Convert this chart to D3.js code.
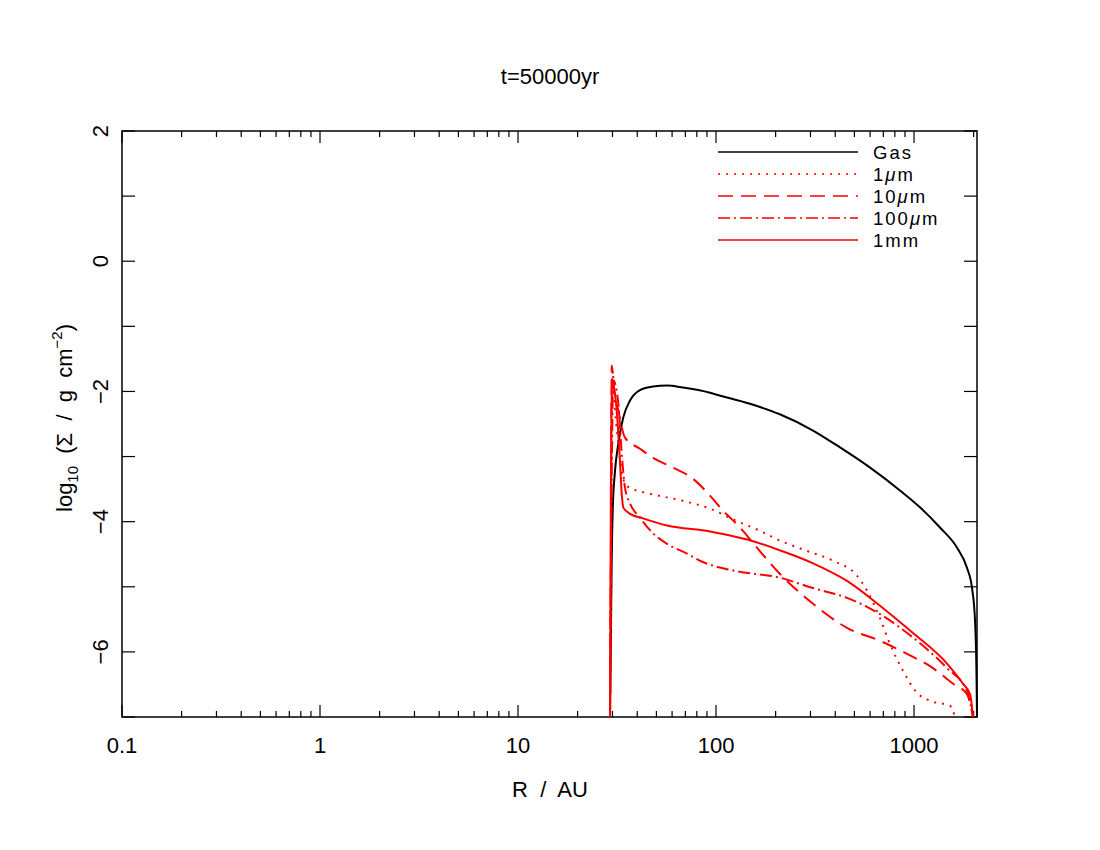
<!DOCTYPE html>
<html><head><meta charset="utf-8">
<script src="https://cdn.jsdelivr.net/npm/d3@7"></script>
<style>body{margin:0;background:#fff}svg{display:block}text{font-family:"Liberation Sans",Arial,sans-serif;white-space:pre}</style>
</head><body><svg id="c" width="1100" height="850"></svg>
<script>
// R in AU, log10 Sigma
const gasR   = [29.15,29.45,29.73,30.08,30.9,32.1,34.0,36.8,41.3,48.1,56.6,68.1,93.3,101,148.5,210,309,423,600,849,1072,1352,1649,1852,1963,2033,2070,2080];
const gasS   = [-7,-5.8,-4.6,-3.83,-3.22,-2.8,-2.4,-2.14,-1.98,-1.925,-1.91,-1.94,-2.02,-2.05,-2.19,-2.35,-2.6,-2.86,-3.17,-3.52,-3.78,-4.09,-4.4,-4.71,-5.02,-5.52,-6.45,-7];
const um1R   = [29.15,29.5,30.0,30.9,32.1,33.4,34.7,36.8,46.4,68.1,93.3,125,161,210,288,390,515,579,673,756,880,1036,1205,1520,1610];
const um1S   = [-7,-4.0,-1.68,-2.29,-2.8,-3.22,-3.42,-3.48,-3.57,-3.68,-3.8,-3.98,-4.12,-4.29,-4.45,-4.6,-4.83,-5.06,-5.48,-5.88,-6.29,-6.63,-6.75,-6.83,-7];
const um10R  = [29.15,29.5,29.73,30.6,32.1,34.7,41.3,48.1,60.7,76.5,90.1,108.5,132.2,161,210,309,458.6,673,922,1247,1574,1852,1986];
const um10S  = [-7,-4.0,-1.6,-2.0,-2.29,-2.71,-2.88,-3.02,-3.17,-3.34,-3.55,-3.83,-4.09,-4.4,-4.8,-5.26,-5.63,-5.83,-6.03,-6.25,-6.49,-6.65,-7];
const um100R = [29.15,29.6,30.3,32.1,33.4,34.7,36.8,41.3,48.1,56.6,71.4,83.0,121.8,210,309,458.6,673,988,1468,1852,1986];
const um100S = [-7,-4.0,-1.83,-2.18,-2.95,-3.48,-3.72,-3.94,-4.18,-4.34,-4.49,-4.6,-4.75,-4.86,-5.02,-5.17,-5.42,-5.78,-6.25,-6.6,-7];
const mm1R   = [29.15,29.45,29.73,31.5,32.7,33.4,34.0,36.8,42.8,56.6,93.3,108.5,153.7,210,309,458.6,673,988,1468,1768,1919,1986];
const mm1S   = [-7,-3.5,-1.8,-2.29,-3.06,-3.57,-3.78,-3.88,-3.95,-4.06,-4.15,-4.19,-4.3,-4.44,-4.64,-4.91,-5.29,-5.71,-6.18,-6.49,-6.65,-7];

const seriesNames = ["Gas","1μm","10μm","100μm","1mm"];
const xTickValues = [0.1,1,10,100,1000];
const xTickLabels = ["0.1","1","10","100","1000"];
const yTickValues = [2,0,-2,-4,-6];
const yTickLabels = ["2","0","−2","−4","−6"];
const titleText = "t=50000yr";

const FS = 22;
const svg = d3.select("#c");
const L=122, R=977, T=131, B=717;
const x = d3.scaleLog().domain([0.1, 2080]).range([L, R]);
const y = d3.scaleLinear().domain([-7, 2]).range([B, T]);

// frame
svg.append("rect").attr("x",L).attr("y",T).attr("width",R-L).attr("height",B-T)
  .attr("fill","none").attr("stroke","#000").attr("stroke-width",1.5);

// ticks
const g = svg.append("g").attr("stroke","#000").attr("stroke-width",1.2);
const xt = [];
for (let e=-1;e<=3;e++) for (let m=1;m<=9;m++){ const v=m*Math.pow(10,e); if(v<=2080) xt.push([v,m===1]); }
xt.forEach(([v,maj])=>{
  const px=x(v), len=maj?12:6;
  g.append("line").attr("x1",px).attr("x2",px).attr("y1",B).attr("y2",B-len);
  g.append("line").attr("x1",px).attr("x2",px).attr("y1",T).attr("y2",T+len);
});
for (let v=-7; v<=2; v++){
  const py=y(v);
  g.append("line").attr("x1",L).attr("x2",L+13).attr("y1",py).attr("y2",py);
  g.append("line").attr("x1",R).attr("x2",R-13).attr("y1",py).attr("y2",py);
}
// x tick labels
xTickValues.forEach((v,i)=>{
  svg.append("text").attr("x",x(v)).attr("y",753).attr("text-anchor","middle")
    .attr("font-size",FS).text(xTickLabels[i]);
});
// y tick labels rotated
yTickValues.forEach((v,i)=>{
  svg.append("text").attr("transform",`translate(108,${y(v)}) rotate(-90)`)
    .attr("text-anchor","middle").attr("font-size",FS).text(yTickLabels[i]);
});
// title & axis labels
svg.append("text").attr("x",550).attr("y",84).attr("text-anchor","middle").attr("font-size",FS).text(titleText);
svg.append("text").attr("x",550).attr("y",797).attr("text-anchor","middle").attr("font-size",FS).text("R  /  AU");
const yl = svg.append("text").attr("transform","translate(72,418) rotate(-90)").attr("text-anchor","middle").attr("font-size",FS);
yl.append("tspan").text("log");
yl.append("tspan").attr("font-size",15).attr("dy",6).text("10");
yl.append("tspan").attr("dy",-6).text("  (Σ  /  g  cm");
yl.append("tspan").attr("font-size",15).attr("dy",-10).text("−2");
yl.append("tspan").attr("dy",10).text(")");

const series = [
  {R:gasR,S:gasS,color:"#000",dash:null},
  {R:um1R,S:um1S,color:"#ff0000",dash:"2,6"},
  {R:um10R,S:um10S,color:"#ff0000",dash:"15,8"},
  {R:um100R,S:um100S,color:"#ff0000",dash:"12,4,2,4"},
  {R:mm1R,S:mm1S,color:"#ff0000",dash:null}
];
const line = d3.line().x(d=>x(d[0])).y(d=>y(d[1])).curve(d3.curveMonotoneX);
series.forEach(s=>{
  const pts = s.R.map((r,i)=>[r,s.S[i]]);
  svg.append("path").attr("d",line(pts)).attr("fill","none").attr("stroke",s.color)
    .attr("stroke-width",2).attr("stroke-dasharray",s.dash);
});
// legend
series.forEach((s,i)=>{
  const ly = 152 + i*22;
  svg.append("line").attr("x1",718).attr("x2",858).attr("y1",ly).attr("y2",ly)
    .attr("stroke",s.color).attr("stroke-width",1.5).attr("stroke-dasharray",s.dash);
  const t = svg.append("text").attr("x",873).attr("y",ly+7).attr("font-size",18.5).attr("letter-spacing",2);
  const nm = seriesNames[i];
  if (nm.includes("μ")) {
    const [a,b] = nm.split("μ");
    t.append("tspan").text(a);
    t.append("tspan").attr("font-style","italic").text("μ");
    t.append("tspan").text(b);
  } else t.text(nm);
});
</script></body></html>
